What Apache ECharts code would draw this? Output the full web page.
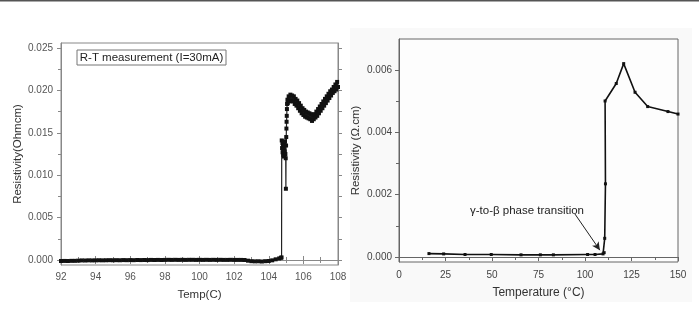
<!DOCTYPE html>
<html>
<head>
<meta charset="utf-8">
<script src="https://cdn.jsdelivr.net/npm/echarts@6/dist/echarts.min.js"></script>
<style>html,body{margin:0;padding:0;background:#fff;}#c{width:699px;height:331px;}</style>
</head>
<body>
<div id="c"></div>
<script>
// ---- Left chart: R-T measurement ----
var leftTemp = [92.0,92.2,92.4,92.6,92.8,93.0,93.2,93.4,93.6,93.8,94.0,94.2,94.4,94.6,94.8,95.0,95.2,95.4,95.6,95.8,96.0,96.2,96.4,96.6,96.8,97.0,97.2,97.4,97.6,97.8,98.0,98.2,98.4,98.6,98.8,99.0,99.2,99.4,99.6,99.8,100.0,100.2,100.4,100.6,100.8,101.0,101.2,101.4,101.6,101.8,102.0,102.2,102.4,102.6,102.8,103.0,103.2,103.4,103.6,103.8,104.0,104.2,104.4,104.6,104.7,104.74,
  104.75,104.77,104.79,104.8,104.82,104.84,104.86,104.88,104.9,104.92,104.94,104.96,104.98,104.99,105.0,105.01,105.02,105.03,105.04,105.05,105.06,105.08,
  105.1,105.15,105.2,105.25,105.3,105.35,105.4,105.45,105.5,105.55,105.6,105.65,105.7,105.75,105.8,105.85,105.9,105.95,106.0,106.05,106.1,106.15,106.2,106.25,106.3,106.35,106.4,106.45,106.5,106.55,106.6,106.65,106.7,106.75,106.8,106.85,106.9,106.95,107.0,107.05,107.1,107.15,107.2,107.25,107.3,107.35,107.4,107.45,107.5,107.55,107.6,107.65,107.7,107.75,107.8,107.85,107.9,107.95,108.0];
var leftRes = [-0.00012,-0.00011,-0.00012,-0.0001,-0.0001,-0.00008,-0.00005,-0.00006,-0.00004,-0.00005,-0.00004,-0.00003,-0.00004,-0.00003,-0.00002,-0.00003,-0.00002,-0.00003,-0.00001,-0.00002,-0.00001,-0.00002,0.0,-0.00001,0.0,-0.00001,0.00001,0.0,0.00001,0.0,0.00001,0.00002,0.00001,0.00002,0.00001,0.00002,0.00001,0.00002,0.00002,0.00001,0.00002,0.00001,0.00002,0.00001,0.00002,0.00001,0.00002,0.00001,0.00001,0.00002,0.00001,0.00001,0.00001,0.0,-0.00008,-0.00014,-0.00016,-0.00015,-0.00018,-0.00014,-0.00012,-0.00004,0.00008,0.00018,0.00026,0.0003,
  0.0141,0.0132,0.0138,0.0127,0.0134,0.0124,0.0130,0.0122,0.0136,0.0128,0.0140,0.0125,0.0120,0.0084,0.0135,0.0145,0.0155,0.0163,0.0170,0.0178,0.0184,0.0189,
  0.0185,0.0193,0.0187,0.0195,0.0188,0.0194,0.0187,0.0193,0.0184,0.0190,0.0182,0.0188,0.0179,0.0185,0.0176,0.0182,0.0173,0.0179,0.0171,0.0177,0.0169,0.0175,0.0168,0.0174,0.0167,0.0173,0.0166,0.0172,0.0164,0.0171,0.0166,0.0172,0.0168,0.0175,0.0170,0.0178,0.0173,0.0181,0.0176,0.0184,0.0179,0.0187,0.0182,0.0190,0.0185,0.0193,0.0188,0.0196,0.0191,0.0199,0.0194,0.0201,0.0197,0.0204,0.0199,0.0207,0.0201,0.0210,0.0204];
var leftXTicks = [92,94,96,98,100,102,104,106,108];
var leftYLabels = [0,0.005,0.010,0.015,0.020,0.025];
var leftYMinor = [0.0025,0.0075,0.0125,0.0175,0.0225];

// ---- Right chart: resistivity vs temperature ----
var rightTemp = [16.1,24,35.5,49.6,65.6,76,83,101.4,105.4,109.7,110.3,110.6,111.0,110.8,116.8,120.8,126.9,133.7,144.6,150];
var rightRes = [0.00011,0.0001,0.00008,0.00008,0.00007,0.00007,0.00007,0.00008,0.00008,0.0001,0.00014,0.0006,0.00235,0.00501,0.00557,0.00621,0.00529,0.00483,0.00467,0.00459];
var rightYLabels = [0,0.002,0.004,0.006];
var rightYMinor = [0.001,0.003,0.005];
var arrowFrom = [94.6,0.00138];
var arrowTo = [108,0.00022];

var leftData = leftTemp.map(function(t,i){return [t,leftRes[i]];});
var rightData = rightTemp.map(function(t,i){return [t,rightRes[i]];});

var FONT = 'Liberation Sans, Arial, sans-serif';
var chart = echarts.init(document.getElementById('c'), null, {renderer:'canvas'});

function fmt3(v){return v.toFixed(3);}

chart.setOption({
  animation:false,
  backgroundColor:'#fff',
  textStyle:{fontFamily:FONT},
  graphic:[
    {type:'rect', z:-10, shape:{x:0,y:0,width:699,height:1.5}, style:{fill:'#555'}},
    {type:'rect', z:-10, shape:{x:350,y:28,width:342,height:274}, style:{fill:'#f9f9f9'}},
    {type:'rect', z:-9, shape:{x:399,y:39,width:279,height:223}, style:{fill:'#fdfdfd'}},
    {type:'rect', z:10, shape:{x:77,y:50,width:149,height:15}, style:{fill:'#fff',stroke:'#777',lineWidth:1}},
    {type:'text', z:11, x:151.5, y:57.5, style:{text:'R-T measurement (I=30mA)', fill:'#222', font:'11.5px '+FONT, align:'center', verticalAlign:'middle'}},
    {type:'text', z:11, x:527, y:211, style:{text:'γ-to-β phase transition', fill:'#222', font:'11.5px '+FONT, align:'center', verticalAlign:'middle'}}
  ],
  grid:[
    {left:61, top:43, width:277, height:222, show:true, borderColor:'#888', borderWidth:1, backgroundColor:'transparent'},
    {left:399, top:39, width:279, height:223, show:true, borderColor:'#666', borderWidth:1, backgroundColor:'transparent'}
  ],
  xAxis:[
    {gridIndex:0, type:'value', min:92, max:108, interval:2, position:'bottom',
     axisLine:{show:true, lineStyle:{color:'#888'}}, axisTick:{show:true, length:4, lineStyle:{color:'#888'}},
     minorTick:{show:true, splitNumber:2, length:3, lineStyle:{color:'#888'}},
     axisLabel:{fontSize:10, color:'#555', margin:7, fontFamily:FONT}, splitLine:{show:false},
     name:'Temp(C)', nameLocation:'middle', nameGap:24, nameTextStyle:{fontSize:11.5, color:'#333', fontFamily:FONT}},
    {gridIndex:0, type:'value', min:92, max:108, interval:2, position:'top',
     axisLine:{show:true, lineStyle:{color:'#888'}}, axisTick:{show:true, length:4, lineStyle:{color:'#888'}},
     minorTick:{show:true, splitNumber:2, length:3, lineStyle:{color:'#888'}},
     axisLabel:{show:false}, splitLine:{show:false}},
    {gridIndex:1, type:'value', min:0, max:150, interval:25, position:'bottom',
     axisLine:{show:true, lineStyle:{color:'#666'}}, axisTick:{show:true, length:4, lineStyle:{color:'#666'}},
     minorTick:{show:true, splitNumber:2, length:3, lineStyle:{color:'#666'}},
     axisLabel:{fontSize:10, color:'#444', margin:8, fontFamily:FONT}, splitLine:{show:false},
     name:'Temperature (°C)', nameLocation:'middle', nameGap:25,
     nameTextStyle:{fontSize:12, color:'#333', fontFamily:FONT}}
  ],
  yAxis:[
    {gridIndex:0, type:'value', min:-0.00059, max:0.02559, position:'left',
     axisLine:{show:true, lineStyle:{color:'#888'}},
     axisTick:{show:true, length:4, customValues:leftYLabels, lineStyle:{color:'#888'}},
     axisLabel:{customValues:leftYLabels, formatter:fmt3, fontSize:10, color:'#555', margin:8, fontFamily:FONT},
     splitLine:{show:false},
     name:'Resistivity(Ohmcm)', nameLocation:'middle', nameGap:36, nameRotate:90,
     nameTextStyle:{fontSize:11.5, color:'#333', fontFamily:FONT}},
    {gridIndex:0, type:'value', min:-0.00059, max:0.02559, position:'left',
     axisLine:{show:false}, axisTick:{show:true, length:3, customValues:leftYMinor, lineStyle:{color:'#888'}},
     axisLabel:{show:false}, splitLine:{show:false}},
    {gridIndex:0, type:'value', min:-0.00059, max:0.02559, position:'right',
     axisLine:{show:true, lineStyle:{color:'#888'}},
     axisTick:{show:true, length:4, customValues:leftYLabels.concat(leftYMinor), lineStyle:{color:'#888'}},
     axisLabel:{show:false}, splitLine:{show:false}},
    {gridIndex:1, type:'value', min:-0.00016, max:0.007, position:'left',
     axisLine:{show:true, lineStyle:{color:'#666'}},
     axisTick:{show:true, length:4, customValues:rightYLabels, lineStyle:{color:'#666'}},
     axisLabel:{customValues:rightYLabels, formatter:fmt3, fontSize:10, color:'#444', margin:7, fontFamily:FONT},
     splitLine:{show:false},
     name:'Resistivity (Ω.cm)', nameLocation:'middle', nameGap:37, nameRotate:90,
     nameTextStyle:{fontSize:11.5, color:'#333', fontFamily:FONT}},
    {gridIndex:1, type:'value', min:-0.00016, max:0.007, position:'left',
     axisLine:{show:false}, axisTick:{show:true, length:3, customValues:rightYMinor, lineStyle:{color:'#666'}},
     axisLabel:{show:false}, splitLine:{show:false}}
  ],
  series:[
    {type:'line', xAxisIndex:0, yAxisIndex:0, data:leftData, symbol:'rect', symbolSize:4,
     itemStyle:{color:'#111'}, lineStyle:{color:'#222', width:1.2}, clip:true, z:3},
    {type:'line', xAxisIndex:2, yAxisIndex:3, data:rightData, symbol:'rect', symbolSize:3,
     itemStyle:{color:'#111'}, lineStyle:{color:'#111', width:1.6}, z:3,
     markLine:{silent:true, symbol:['none','arrow'], symbolSize:[6,8], label:{show:false},
       lineStyle:{color:'#222', width:1, type:'solid'},
       data:[[{coord:arrowFrom},{coord:arrowTo}]]}}
  ]
});
</script>
</body>
</html>
